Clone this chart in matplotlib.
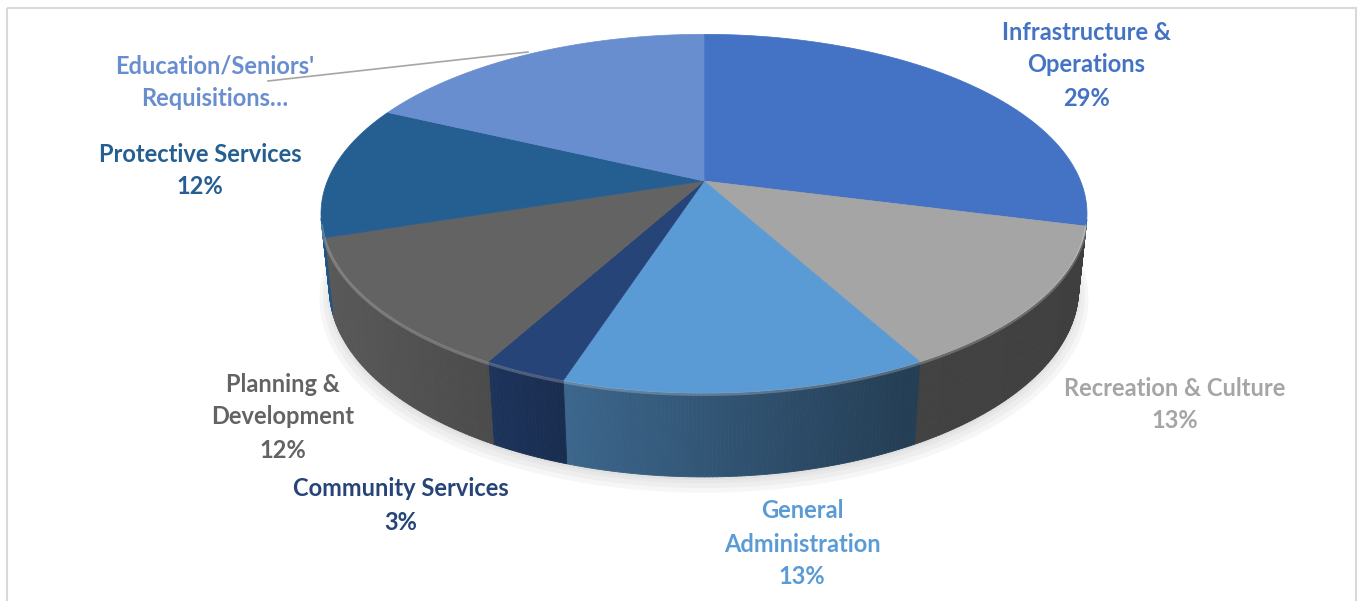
import numpy as np
import matplotlib
matplotlib.use("Agg")
import matplotlib.pyplot as plt
from matplotlib.patches import Polygon, Rectangle
from matplotlib.collections import PolyCollection
from matplotlib.colors import to_rgb

# data
categories = ["Infrastructure & Operations", "Recreation & Culture", "General Administration",
              "Community Services", "Planning & Development", "Protective Services",
              "Education/Seniors' Requisitions"]
shares = [29, 13, 13, 3, 12, 12, 18]
colors = ["#4472C4", "#A5A5A5", "#5B9BD5", "#264478", "#636363", "#255E91", "#698ED0"]
label_lines = [["Infrastructure &", "Operations", "29%"],
               ["Recreation & Culture", "13%"],
               ["General", "Administration", "13%"],
               ["Community Services", "3%"],
               ["Planning &", "Development", "12%"],
               ["Protective Services", "12%"],
               ["Education/Seniors'", "Requisitions…"]]
# label centre x, first-line y (pixels)
label_pos = [(1086, 32), (1175, 388), (802, 511), (401, 489), (283, 384), (200, 154), (215, 66)]
line_step = 33

fig = plt.figure(figsize=(13.63, 6.01), dpi=100)
ax = fig.add_axes([0, 0, 1, 1])
ax.set_xlim(0, 1363)
ax.set_ylim(601, 0)
ax.axis("off")

# simple perspective camera
elev = np.radians(27.5)
c, s = np.cos(elev), np.sin(elev)
D = 5.49 * c
thick = 0.225


def proj(x, y, z):
    vx = x
    vy = y + D * c
    vz = z - D * s
    d = vy * c - vz * s
    return vx / d, (vy * s + vz * c) / d


x0, y0 = 704, 181
_, yf = proj(0.0, -1.0, 0.0)
sy = (393 - y0) / (-yf)
tt = np.linspace(0, 2 * np.pi, 720)
rx, _ = proj(np.cos(tt), np.sin(tt), 0 * tt)
sx = 383 / np.abs(rx).max()


def px(x, y, z):
    X, Y = proj(x, y, z)
    return x0 + sx * X, y0 - sy * Y


# slice angle bounds, clockwise from 12 o'clock
cum = np.concatenate([[0], np.cumsum(shares)]) / np.sum(shares)
bounds = np.radians(90 - 360 * cum)

# soft shadow under the front edge
a = np.linspace(0, 2 * np.pi, 360)
for sc, off in [(1.025, 9), (1.015, 7), (1.005, 5), (1.0, 3)]:
    bx, by = px(sc * np.cos(a), sc * np.sin(a), -thick)
    ax.add_patch(Polygon(np.column_stack([bx, by + off]), closed=True,
                         facecolor="#8c8c8c", edgecolor="none", alpha=0.07, zorder=1))

# side walls
quads, qcols = [], []
for i in range(len(shares)):
    a0, a1 = bounds[i], bounds[i + 1]
    n = max(2, int(np.degrees(a0 - a1) * 2))
    ph = np.linspace(a0, a1, n + 1)
    base = np.array(to_rgb(colors[i]))
    for j in range(n):
        pm = 0.5 * (ph[j] + ph[j + 1])
        if np.sin(pm) >= -1 / (D * c) + 0.02:
            continue
        p0, p1 = ph[j], ph[j + 1]
        tx0, ty0 = px(np.cos(p0), np.sin(p0), 0)
        tx1, ty1 = px(np.cos(p1), np.sin(p1), 0)
        bx0, by0 = px(np.cos(p0), np.sin(p0), -thick)
        bx1, by1 = px(np.cos(p1), np.sin(p1), -thick)
        quads.append([(tx0, ty0), (tx1, ty1), (bx1, by1), (bx0, by0)])
        f = np.interp(np.cos(pm), [-1, -0.48, -0.31, 0.45, 1], [0.92, 0.76, 0.66, 0.40, 0.38])
        qcols.append(np.clip(base * f, 0, 1))
ax.add_collection(PolyCollection(quads, facecolors=qcols, edgecolors=qcols,
                                 linewidths=0.6, zorder=2))

# top faces
ax_x, ax_y = px(0.0, 0.0, 0.0)
for i in range(len(shares)):
    ph = np.linspace(bounds[i], bounds[i + 1], 200)
    rxp, ryp = px(np.cos(ph), np.sin(ph), 0 * ph)
    pts = np.vstack([[ax_x, ax_y], np.column_stack([rxp, ryp])])
    ax.add_patch(Polygon(pts, closed=True, facecolor=colors[i], edgecolor=colors[i],
                         linewidth=0.5, zorder=3))

# rim highlight on the front edge
ph = np.linspace(np.radians(-200), np.radians(20), 400)
ph = ph[np.sin(ph) < -1 / (D * c)]
hx, hy = px(np.cos(ph), np.sin(ph), 0 * ph)
ax.plot(hx, hy + 1.5, color="white", alpha=0.22, lw=2.2, zorder=4, solid_capstyle="round")

# labels
for i, lines in enumerate(label_lines):
    lx, ly = label_pos[i]
    for k, ln in enumerate(lines):
        ax.text(lx, ly + k * line_step, ln, ha="center", va="center", fontsize=17,
                fontweight="bold", family="Lato", color=colors[i], zorder=5)

# leader line for the education label
ax.plot([268, 528], [81, 52], color="#a6a6a6", lw=1.2, zorder=4)

# chart border
ax.add_patch(Rectangle((7, 8), 1349, 620, fill=False, edgecolor="#d9d9d9", lw=1.5, zorder=0))

fig.savefig("out.png", dpi=100)
